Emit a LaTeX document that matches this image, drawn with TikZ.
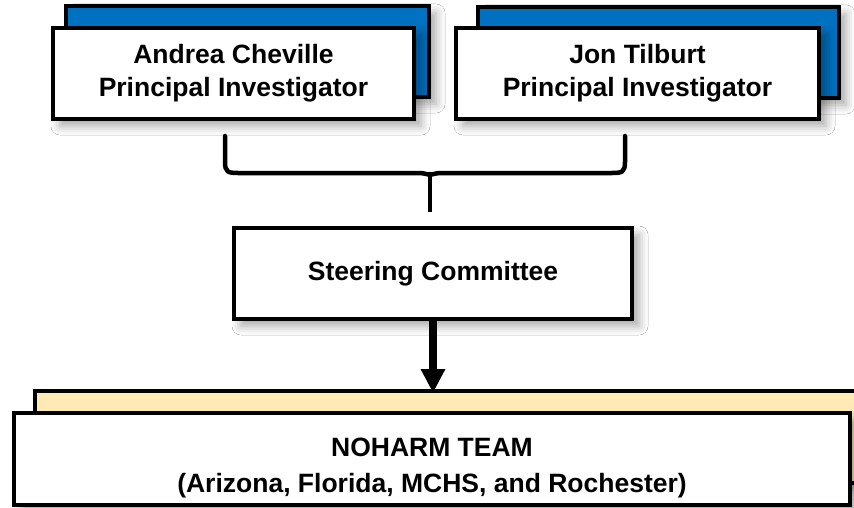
\documentclass[tikz,border=0pt]{standalone}
\usepackage{fontspec}
\setmainfont{Liberation Sans}
\usetikzlibrary{arrows.meta,shadows.blur}
\definecolor{boxblue}{HTML}{0070C0}
\definecolor{boxtan}{HTML}{FFE9B5}
\begin{document}
\begin{tikzpicture}[x=1pt,y=-1pt,
  every node/.style={inner sep=0pt, outer sep=0pt},
  frontbox/.style={draw=black, line width=3.5pt, fill=white, rectangle, align=center,
    font=\fontsize{26.5}{33}\selectfont\bfseries,
    blur shadow={shadow xshift=7pt, shadow yshift=-7pt, shadow blur radius=9pt, shadow opacity=35}},
  backbox/.style={draw=black, line width=3.5pt, rectangle,
    blur shadow={shadow xshift=7pt, shadow yshift=-7pt, shadow blur radius=9pt, shadow opacity=35}},
  conn/.style={draw=black, line width=4.5pt, line cap=round, line join=round}
]
\useasboundingbox (0,0) rectangle (854,508);
\fill[white] (0,0) rectangle (854,508);

% Principal investigators
\node[backbox, fill=boxblue, minimum width=363pt, minimum height=91pt] (b1) at (247.5,51.5) {};
\node[frontbox, minimum width=361pt, minimum height=91pt] (pi1) at (233.5,73.5)
  {Andrea Cheville\\Principal Investigator};
\node[backbox, fill=boxblue, minimum width=361pt, minimum height=91pt] (b2) at (658.5,52.5) {};
\node[frontbox, minimum width=363pt, minimum height=91pt] (pi2) at (637.5,73.5)
  {Jon Tilburt\\Principal Investigator};

% Steering committee
\node[frontbox, minimum width=398pt, minimum height=91pt] (steer) at (433,273.5)
  {Steering Committee};

% NOHARM team
\node[backbox, fill=boxtan, minimum width=845pt, minimum height=92pt] (tb) at (457.5,437) {};
\node[frontbox, minimum width=836pt, minimum height=92pt] (team) at (432,459)
  {\raisebox{-9pt}[\height][\depth]{\begin{tabular}{@{}c@{}}NOHARM TEAM\\[3pt](Arizona, Florida, MCHS, and Rochester)\end{tabular}}};

% Brace
\coordinate (bl) at (225,136);
\coordinate (br) at (625,136);
\coordinate (bm) at (430,174);
\coordinate (bt) at (430,212);
\draw[conn] (bl) -- (225,162) .. controls (225,172) and (228,173) .. (238,173)
  -- (418,173) .. controls (427,173) and (430,176) .. (bm)
  .. controls (430,176) and (433,173) .. (442,173)
  -- (612,173) .. controls (622,173) and (625,172) .. (625,162) -- (br);
\draw[conn, line cap=butt] (bm) -- (bt);

% Arrow
\draw[line width=7.5pt, -{Triangle[length=24pt,width=23pt]}]
  (steer.south) -- ([yshift=-2pt]steer.south |- tb.north);
\end{tikzpicture}
\end{document}
